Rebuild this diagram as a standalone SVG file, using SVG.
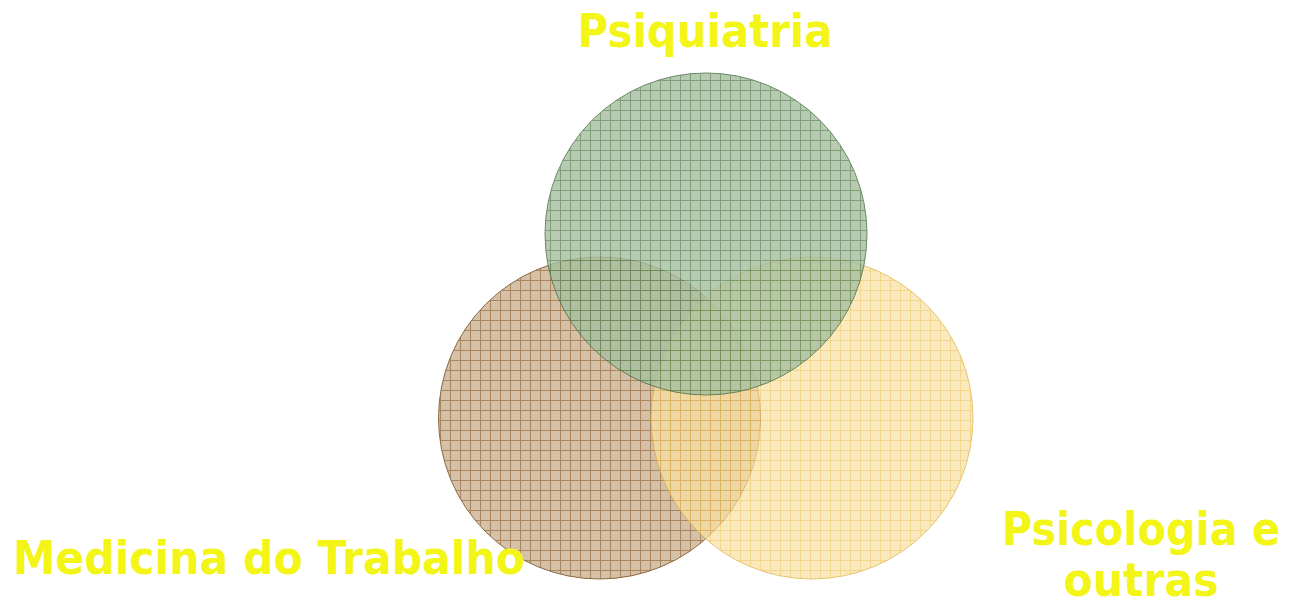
<svg xmlns="http://www.w3.org/2000/svg" width="1290" height="607" viewBox="0 0 1290 607">
<style>
.lbl{font-family:"DejaVu Sans","Liberation Sans",sans-serif;font-weight:bold;font-size:46px;fill:#F3F516}
</style>
<defs>
<pattern id="pg" width="10" height="10" patternUnits="userSpaceOnUse">
<rect width="10" height="10" fill="#a8bfa2"/>
<path d="M0 0.5H10M0.5 0V10" stroke="#648c5c" stroke-width="1"/>
</pattern>
<pattern id="pb" width="10" height="10" patternUnits="userSpaceOnUse">
<rect width="10" height="10" fill="#d5c1a7"/>
<path d="M0 0.5H10M0.5 0V10" stroke="#a98660" stroke-width="1"/>
</pattern>
<pattern id="py" width="10" height="10" patternUnits="userSpaceOnUse">
<rect width="10" height="10" fill="#f9e1a4"/>
<path d="M0 0.5H10M0.5 0V10" stroke="#efc763" stroke-width="1"/>
</pattern>
</defs>
<rect width="1290" height="607" fill="#ffffff"/>
<g id="medicina-circle">
<circle cx="599.5" cy="418" r="161" fill="url(#pb)" stroke="#8a6842" stroke-width="1"/>
</g>
<g id="psicologia-circle" opacity="0.72">
<circle cx="812" cy="418" r="161" fill="url(#py)" stroke="#dcae3c" stroke-width="1"/>
</g>
<g id="psiquiatria-circle" opacity="0.82">
<circle cx="706" cy="234" r="161" fill="url(#pg)" stroke="#4a7044" stroke-width="1"/>
</g>
<g id="connectors"></g>
<g id="labels">
<text class="lbl" x="705" y="47" text-anchor="middle" textLength="255" lengthAdjust="spacingAndGlyphs">Psiquiatria</text>
<text class="lbl" x="13" y="574" textLength="512" lengthAdjust="spacingAndGlyphs">Medicina do Trabalho</text>
<text class="lbl" transform="translate(1141 545) scale(0.9 1)" x="0" y="0" text-anchor="middle">Psicologia e</text>
<text class="lbl" x="1141" y="596" text-anchor="middle" textLength="155" lengthAdjust="spacingAndGlyphs">outras</text>
</g>
</svg>
